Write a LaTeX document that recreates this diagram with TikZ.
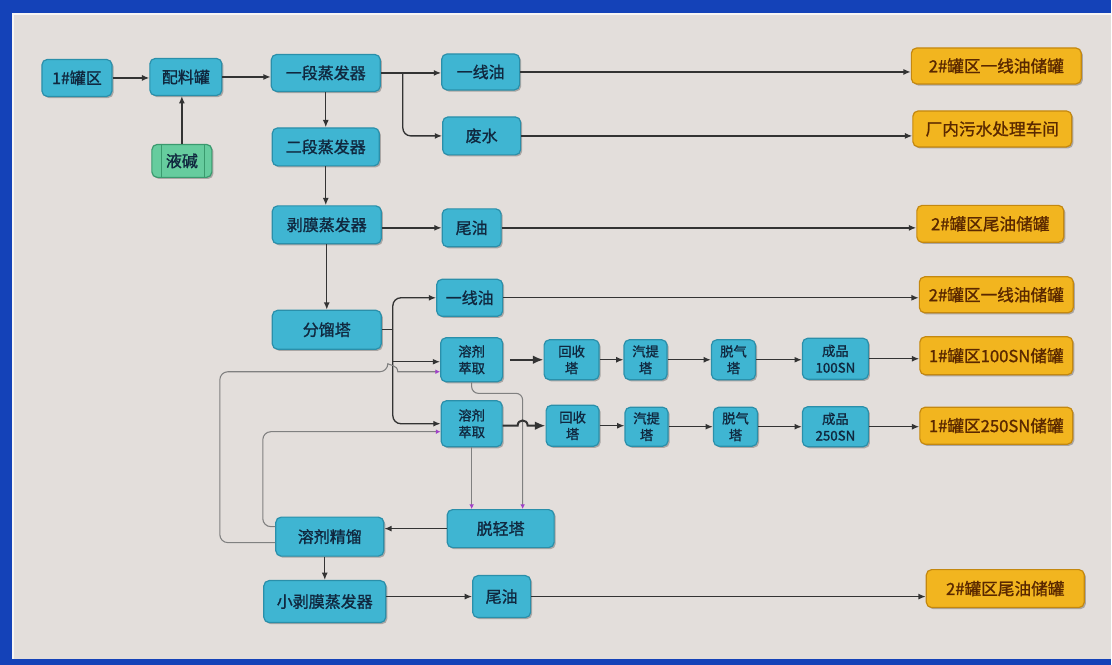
\documentclass[tikz,border=0pt]{standalone}
\usepackage{fontspec}
\newfontfamily\cjk[FakeBold=1.2]{Noto Sans CJK SC}
\usetikzlibrary{arrows.meta,shadows,calc}
\definecolor{frameblue}{HTML}{1442B8}
\definecolor{panel}{HTML}{E3DEDB}
\definecolor{tealF}{HTML}{3FB5D2}
\definecolor{tealD}{HTML}{2A8FAA}
\definecolor{navy}{HTML}{10283F}
\definecolor{oraF}{HTML}{F2B51F}
\definecolor{oraD}{HTML}{C4880F}
\definecolor{oraT}{HTML}{5A2800}
\definecolor{grnF}{HTML}{66CC9E}
\definecolor{grnD}{HTML}{3A9A6E}
\definecolor{lineC}{HTML}{333333}
\definecolor{recC}{HTML}{808080}
\definecolor{tipP}{HTML}{A040C8}
\begin{document}
\begin{tikzpicture}[x=0.75pt,y=-0.75pt,
  base/.style={rounded corners=4pt, line width=0.9pt, inner sep=0pt, align=center,
    drop shadow={shadow xshift=1.2pt, shadow yshift=-1.2pt, opacity=0.25, fill=black}},
  tb/.style 2 args={base, draw=tealD, fill=tealF, text=navy,
    font=\cjk\fontsize{12}{14}\selectfont, minimum width=#1*0.75pt, minimum height=#2*0.75pt},
  ts/.style 2 args={tb={#1}{#2}, font=\cjk\fontsize{10}{12.5}\selectfont},
  ob/.style 2 args={base, draw=oraD, fill=oraF, text=oraT,
    font=\cjk\fontsize{12.5}{14}\selectfont, minimum width=#1*0.75pt, minimum height=#2*0.75pt},
  gb/.style 2 args={base, draw=grnD, fill=grnF, text=navy,
    font=\cjk\fontsize{12}{14}\selectfont, minimum width=#1*0.75pt, minimum height=#2*0.75pt},
  plain/.style={draw=lineC, line width=1pt},
  arr/.style={draw=lineC, line width=1pt, -{Latex[length=5.5pt,width=4.5pt]}},
  arrB/.style={draw=lineC, line width=1.5pt, -{Latex[length=8pt,width=6.5pt]}},
  rec/.style={draw=recC, line width=0.8pt, -{Latex[length=3.5pt,width=3.5pt,color=tipP]}},
]
% frame and panel
\fill[frameblue] (0,0) rectangle (1112,665);
\fill[panel] (12,13) rectangle (1112,659);
\draw[white!70!panel, line width=1.2pt] (13,659) -- (13,14) -- (1112,14);

% nodes
\node[tb={70}{37}] (t1) at (77,78) {1\#罐区};
\node[tb={72}{37}] (pl) at (186,77) {配料罐};
\node[gb={60}{33}] (yj) at (182,161) {液碱};
\draw[grnD, line width=0.8pt] ($(yj.north west)+(10,0)$) -- ($(yj.south west)+(10,0)$);
\draw[grnD, line width=0.8pt] ($(yj.north east)+(-8,0)$) -- ($(yj.south east)+(-8,0)$);
\node[tb={109}{37}] (yd1) at (326,73) {一段蒸发器};
\node[tb={107}{38}] (yd2) at (326,147) {二段蒸发器};
\node[tb={78}{36}] (yx1) at (481,72) {一线油};
\node[tb={78}{38}] (fs) at (482,136) {废水};
\node[ob={170}{36}] (or1) at (997,66) {2\#罐区一线油储罐};
\node[ob={159}{36}] (or2) at (993,129) {厂内污水处理车间};
\node[tb={109}{38}] (bm) at (327,225) {剥膜蒸发器};
\node[tb={59}{38}] (wy1) at (472,228) {尾油};
\node[ob={147}{37}] (or3) at (991,224) {2\#罐区尾油储罐};
\node[tb={109}{39}] (fl) at (327,330) {分馏塔};
\node[tb={66}{37}] (yx2) at (470,298) {一线油};
\node[ob={154}{36}] (or4) at (997,295) {2\#罐区一线油储罐};
\node[ts={62}{44}] (cq1) at (472,360) {溶剂\\萃取};
\node[ts={55}{40}] (hs1) at (572,360) {回收\\塔};
\node[ts={43}{40}] (qt1) at (646,360) {汽提\\塔};
\node[ts={44}{40}] (tq1) at (734,360) {脱气\\塔};
\node[ts={66}{41}] (cp1) at (836,359) {成品\\100SN};
\node[ob={153}{38}] (or5) at (997,356) {1\#罐区100SN储罐};
\node[ts={61}{46}] (cq2) at (472,424) {溶剂\\萃取};
\node[ts={53}{41}] (hs2) at (573,426) {回收\\塔};
\node[ts={43}{39}] (qt2) at (647,427) {汽提\\塔};
\node[ts={44}{39}] (tq2) at (736,427) {脱气\\塔};
\node[ts={66}{40}] (cp2) at (836,427) {成品\\250SN};
\node[ob={153}{37}] (or6) at (997,426) {1\#罐区250SN储罐};
\node[tb={107}{38}] (tqq) at (501,529) {脱轻塔};
\node[tb={108}{39}] (jl) at (330,537) {溶剂精馏};
\node[tb={122}{42}] (xbm) at (325,602) {小剥膜蒸发器};
\node[tb={58}{42}] (wy3) at (502,597) {尾油};
\node[ob={158}{38}] (or7) at (1006,589) {2\#罐区尾油储罐};

% top section
\draw[arr] (t1.east) -- (t1.east -| pl.west);
\draw[arr] (yj.north) -- (yj.north |- pl.south);
\draw[arr] (pl.east) -- (pl.east -| yd1.west);
\coordinate (j1) at ($(yd1.east)+(22,0)$);
\draw[plain] (yd1.east) -- (j1);
\draw[arr] (j1) -- (j1 -| yx1.west);
\draw[arr, rounded corners=6pt] (j1) |- (fs.west);
\draw[arr] (yx1.east) -- (yx1.east -| or1.west);
\draw[arr] (fs.east) -- (fs.east -| or2.west);
\draw[arr] (yd1.south) -- (yd1.south |- yd2.north);
\draw[arr] (yd2.south) -- (yd2.south |- bm.north);
\draw[arr] (wy1.west -| bm.east) -- (wy1.west);
\draw[arr] (wy1.east) -- (wy1.east -| or3.west);
\draw[arr] (bm.south) -- (bm.south |- fl.north);

% fractionation trunk
\coordinate (tr) at ($(fl.east)+(11,0)$);
\draw[plain] (fl.east) -- (tr);
\draw[arr, rounded corners=6pt] (tr) |- (yx2.west);
\draw[arr, rounded corners=6pt] (tr) |- (cq2.west);
\draw[arr] ($(tr |- cq1.west)+(0,2)$) -- ($(cq1.west)+(0,2)$);
\draw[arr] (yx2.east) -- (yx2.east -| or4.west);

% row 1
\draw[arrB, shorten <=5pt] (cq1.east) -- (cq1.east -| hs1.west);
\draw[arr] (hs1.east) -- (hs1.east -| qt1.west);
\draw[arr] (qt1.east) -- (qt1.east -| tq1.west);
\draw[arr] (tq1.east) -- (tq1.east -| cp1.west);
\draw[arr] (cp1.east) -- (cp1.east -| or5.west);

% grey line from cq1 down to tqq
\coordinate (gx) at ($(tqq.north)+(22,0)$);
\draw[rec, rounded corners=5pt] (cq1.south) -- ++(0,11) -| (gx);
\draw[rec] (cq2.south) -- (cq2.south |- tqq.north);

% row 2 with hop over the grey line
\coordinate (h2) at (gx |- hs2.west);
\draw[arrB] (cq2.east |- hs2.west) -- ($(h2)+(-5,0)$)
  .. controls ($(h2)+(-5,-7)$) and ($(h2)+(5,-7)$) .. ($(h2)+(5,0)$) -- (hs2.west);
\draw[arr] (hs2.east) -- (hs2.east -| qt2.west);
\draw[arr] (qt2.east) -- (qt2.east -| tq2.west);
\draw[arr] (tq2.east) -- (tq2.east -| cp2.west);
\draw[arr] (cp2.east) -- (cp2.east -| or6.west);

% lower part
\draw[arr] (tqq.west) -- (tqq.west -| jl.east);
\coordinate (h1) at ($(tr |- cq1.west)+(0,12)$);
\draw[rec] ($(jl.west)+(0,6)$) [rounded corners=6pt] -- (220,543) -- (220,372) -- ($(h1)+(-5,0)$) [sharp corners]
  .. controls ($(h1)+(-5,-7)$) and ($(h1)+(5,-7)$) .. ($(h1)+(5,0)$) -- ($(cq1.west)+(0,12)$);
\draw[rec, rounded corners=6pt] ($(jl.west)+(0,-10)$) -- (263,527) -- (263,432) -- ($(cq2.west)+(0,8)$);
\draw[arr] (xbm.north |- jl.south) -- (xbm.north);
\draw[arr] (wy3.west -| xbm.east) -- (wy3.west);
\draw[arr] (wy3.east) -- (wy3.east -| or7.west);
\end{tikzpicture}
\end{document}
